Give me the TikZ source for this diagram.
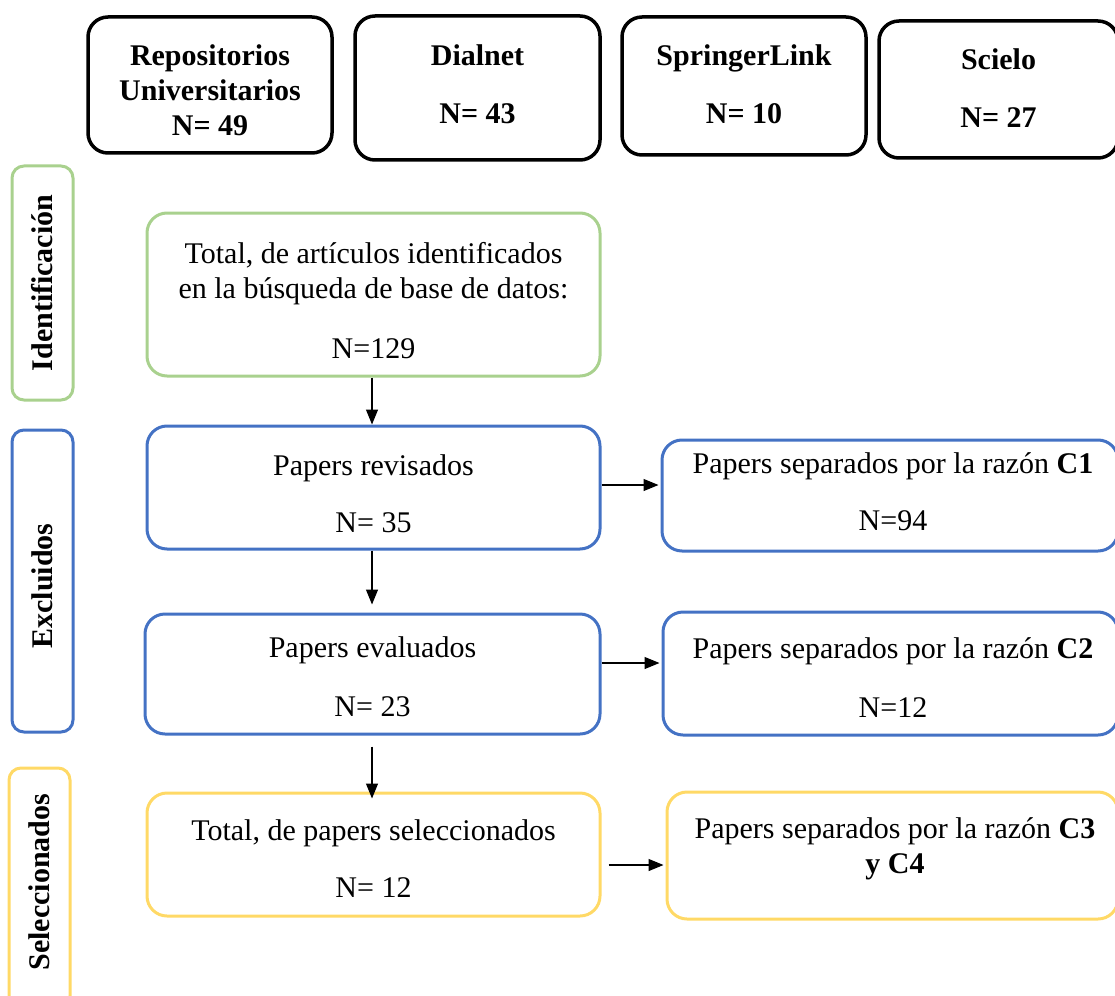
\documentclass[tikz,border=0pt]{standalone}
\usepackage{fontspec}
\setmainfont{Liberation Serif}
\usetikzlibrary{arrows.meta}
\definecolor{cgreen}{HTML}{A9D18E}
\definecolor{cblue}{HTML}{4472C4}
\definecolor{cyellow}{HTML}{FFD966}
\begin{document}
\begin{tikzpicture}[x=1pt,y=-1pt,
  box/.style={draw,rounded corners=20pt,line width=3pt,inner sep=0pt},
  txt/.style={align=center,inner sep=0pt,font=\fontsize{30}{35}\selectfont},
  srcbox/.style={box,draw=black,line width=3.5pt},
  srctxt/.style={txt,font=\fontsize{30}{35}\selectfont\bfseries},
  sidebox/.style={draw,rounded corners=12pt,line width=3pt,inner sep=0pt},
  sidetext/.style={rotate=90,font=\fontsize{30}{35}\selectfont\bfseries},
  arr/.style={line width=1.2pt,-{Triangle[length=15pt,width=12pt]}}]
\useasboundingbox (0,0) rectangle (1115,995);
% source boxes
\node[srcbox,minimum width=244pt,minimum height=136pt] (repo) at (210,85) {};
\node[srctxt] (repot) at (210,90) {Repositorios\\Universitarios\\N= 49};
\node[srcbox,minimum width=245pt,minimum height=144pt] (dial) at (477.5,88) {};
\node[srctxt] (dialt) at (477.5,84) {Dialnet\\[23pt]N= 43};
\node[srcbox,minimum width=244pt,minimum height=138pt] (spri) at (744,86) {};
\node[srctxt] (sprit) at (744,84) {SpringerLink\\[23pt]N= 10};
\node[srcbox,minimum width=239pt,minimum height=137pt] (scie) at (998.5,89.5) {};
\node[srctxt] (sciet) at (998.5,88.5) {Scielo\\[23pt]N= 27};
% side labels
\node[sidebox,draw=cgreen,minimum width=61pt,minimum height=234pt] (sid) at (42.5,283) {};
\node[sidetext] (sidt) at (sid.center) {Identificación};
\node[sidebox,draw=cblue,minimum width=61pt,minimum height=302pt] (sex) at (42.5,581) {};
\node[sidetext] (sext) at (42.5,586) {Excluidos};
\node[sidebox,draw=cyellow,minimum width=61pt,minimum height=240pt] (sse) at (39.5,888) {};
\node[sidetext] (sset) at (39.5,882) {Seleccionados};
% main boxes
\node[box,draw=cgreen,minimum width=453pt,minimum height=163pt] (ident) at (373.5,294.5) {};
\node[txt] (identt) at (373.5,300.5)
  {Total, de artículos identificados\\en la búsqueda de base de datos:\\[25pt]N=129};
\node[box,draw=cblue,minimum width=453pt,minimum height=123pt] (rev) at (373.5,487.5) {};
\node[txt] (revt) at (373.5,493.5) {Papers revisados\\[22pt]N= 35};
\node[box,draw=cblue,minimum width=455pt,minimum height=120pt] (eval) at (372.5,674) {};
\node[txt] (evalt) at (372.5,676.5) {Papers evaluados\\[24pt]N= 23};
\node[box,draw=cyellow,minimum width=453pt,minimum height=123pt] (sel) at (373.5,854.5) {};
\node[txt] (selt) at (373.5,858.5) {Total, de papers seleccionados\\[22pt]N= 12};
\node[box,draw=cblue,minimum width=456pt,minimum height=111pt] (c1) at (890,495.5) {};
\node[txt] (c1t) at (893,491.5) {Papers separados por la razón \textbf{C1}\\[22pt]N=94};
\node[box,draw=cblue,minimum width=455pt,minimum height=123pt] (c2) at (890.5,673.5) {};
\node[txt] (c2t) at (893,677.5) {Papers separados por la razón \textbf{C2}\\[24pt]N=12};
\node[box,draw=cyellow,minimum width=451pt,minimum height=127pt] (c3) at (892.5,855.5) {};
\node[txt] (c3t) at (895,849) {Papers separados por la razón \textbf{C3}\\\textbf{y C4}};
% arrows
\draw[arr] (ident.south -| 372,0) -- (rev.north -| 372,0);
\draw[arr,shorten >=8pt] (rev.south -| 372,0) -- (eval.north -| 372,0);
\draw[arr,shorten <=11pt,shorten >=-7pt] (eval.south -| 372,0) -- (sel.north -| 372,0);
\draw[arr,shorten >=2pt] (rev.east |- 0,485) -- (c1.west |- 0,485);
\draw[arr,shorten >=2pt] (eval.east |- 0,663) -- (c2.west |- 0,663);
\draw[arr,shorten <=7pt,shorten >=2pt] (sel.east |- 0,865) -- (c3.west |- 0,865);
\end{tikzpicture}
\end{document}
